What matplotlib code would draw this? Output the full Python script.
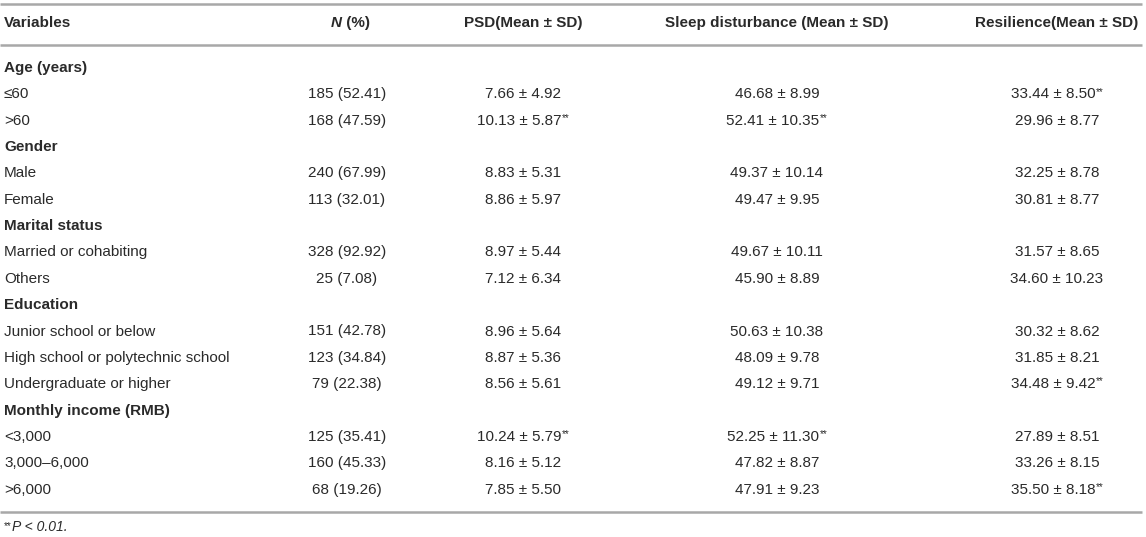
import matplotlib.pyplot as plt

plt.rcParams['font.family'] = ['Liberation Sans', 'DejaVu Sans']

# table data
headers = ["Variables", "N (%)", "PSD(Mean \u00b1 SD)",
           "Sleep disturbance (Mean \u00b1 SD)", "Resilience(Mean \u00b1 SD)"]
groups = ["Age (years)", "Gender", "Marital status", "Education",
          "Monthly income (RMB)"]
categories = [
    ["\u226460", ">60"],
    ["Male", "Female"],
    ["Married or cohabiting", "Others"],
    ["Junior school or below", "High school or polytechnic school",
     "Undergraduate or higher"],
    ["<3,000", "3,000\u20136,000", ">6,000"],
]
n_counts = [185, 168, 240, 113, 328, 25, 151, 123, 79, 125, 160, 68]
n_pct = [52.41, 47.59, 67.99, 32.01, 92.92, 7.08, 42.78, 34.84, 22.38,
         35.41, 45.33, 19.26]
psd_mean = [7.66, 10.13, 8.83, 8.86, 8.97, 7.12, 8.96, 8.87, 8.56,
            10.24, 8.16, 7.85]
psd_sd = [4.92, 5.87, 5.31, 5.97, 5.44, 6.34, 5.64, 5.36, 5.61,
          5.79, 5.12, 5.50]
psd_sig = [0, 1, 0, 0, 0, 0, 0, 0, 0, 1, 0, 0]
sleep_mean = [46.68, 52.41, 49.37, 49.47, 49.67, 45.90, 50.63, 48.09, 49.12,
              52.25, 47.82, 47.91]
sleep_sd = [8.99, 10.35, 10.14, 9.95, 10.11, 8.89, 10.38, 9.78, 9.71,
            11.30, 8.87, 9.23]
sleep_sig = [0, 1, 0, 0, 0, 0, 0, 0, 0, 1, 0, 0]
res_mean = [33.44, 29.96, 32.25, 30.81, 31.57, 34.60, 30.32, 31.85, 34.48,
            27.89, 33.26, 35.50]
res_sd = [8.50, 8.77, 8.78, 8.77, 8.65, 10.23, 8.62, 8.21, 9.42,
          8.51, 8.15, 8.18]
res_sig = [1, 0, 0, 0, 0, 0, 0, 0, 1, 0, 0, 1]

W, H = 1146, 537
fig = plt.figure(figsize=(W / 100, H / 100), dpi=100)
ax = fig.add_axes([0, 0, 1, 1])
ax.set_xlim(0, W)
ax.set_ylim(H, 0)
ax.axis('off')

FS = 11
TXT = '#2a2a2a'
LINE = '#a8a8a8'
col_x = [4, 347, 523, 777, 1057]
y_head = 23
y0 = 68
dy = 26.35

for y in (4, 45, 512):
    ax.plot([0, 1142], [y, y], color=LINE, lw=1.8, solid_capstyle='butt')

# header
ax.text(col_x[0], y_head, headers[0], ha='left', va='center',
        fontsize=FS, fontweight='bold', color=TXT)
t = ax.text(col_x[1] + 9, y_head, " (%)", ha='center', va='center',
            fontsize=FS, fontweight='bold', color=TXT)
ax.annotate("N", xy=(0, 0.5), xycoords=t, ha='right', va='center',
            fontsize=FS, fontweight='bold', fontstyle='italic', color=TXT)
for j in range(2, 5):
    ax.text(col_x[j], y_head, headers[j], ha='center', va='center',
            fontsize=FS, fontweight='bold', color=TXT)


def cell(x, y, s, sig):
    if sig:
        tt = ax.text(x - 4, y, s, ha='center', va='center',
                     fontsize=FS, color=TXT)
        ax.annotate("**", xy=(1, 1), xycoords=tt, xytext=(0.3, 0.5),
                    textcoords='offset points', ha='left', va='top',
                    fontsize=7, color=TXT)
    else:
        ax.text(x, y, s, ha='center', va='center', fontsize=FS, color=TXT)


row = 0
k = 0
for g, cats in zip(groups, categories):
    y = y0 + row * dy
    ax.text(col_x[0], y, g, ha='left', va='center', fontsize=FS,
            fontweight='bold', color=TXT)
    row += 1
    for c in cats:
        y = y0 + row * dy
        ax.text(col_x[0], y, c, ha='left', va='center', fontsize=FS,
                color=TXT)
        ax.text(col_x[1], y, f"{n_counts[k]} ({n_pct[k]:.2f})",
                ha='center', va='center', fontsize=FS, color=TXT)
        cell(col_x[2], y, f"{psd_mean[k]:.2f} \u00b1 {psd_sd[k]:.2f}",
             psd_sig[k])
        cell(col_x[3], y, f"{sleep_mean[k]:.2f} \u00b1 {sleep_sd[k]:.2f}",
             sleep_sig[k])
        cell(col_x[4], y, f"{res_mean[k]:.2f} \u00b1 {res_sd[k]:.2f}",
             res_sig[k])
        row += 1
        k += 1

# footnote
st = ax.text(4, 526, "**", ha='left', va='center', fontsize=7, color=TXT)
ax.annotate("P < 0.01.", xy=(1, 0), xycoords=st, xytext=(0.5, -2),
            textcoords='offset points', ha='left', va='bottom',
            fontsize=FS - 1, fontstyle='italic', color=TXT)

fig.savefig('out.png', dpi=100)
